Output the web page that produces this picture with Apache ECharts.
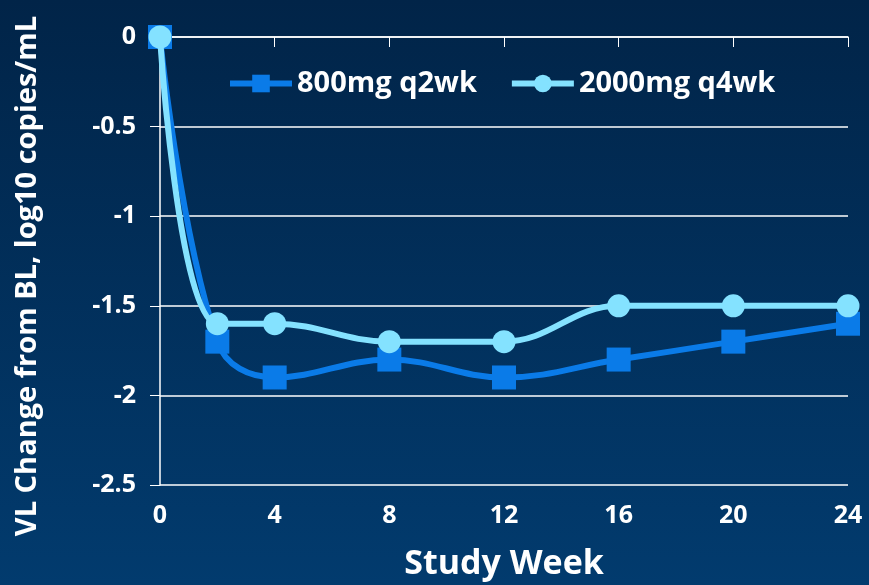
<!DOCTYPE html>
<html>
<head>
<meta charset="utf-8">
<title>VL Change from BL</title>
<script src="https://cdn.jsdelivr.net/npm/echarts@6/dist/echarts.min.js"></script>
<style>
  html, body { margin: 0; padding: 0; }
  #chart { width: 869px; height: 585px; }
</style>
</head>
<body>
<div id="chart"></div>
<script>
var weeks = [0, 2, 4, 8, 12, 16, 20, 24];
var q2wk = [0, -1.7, -1.9, -1.8, -1.9, -1.8, -1.7, -1.6];
var q4wk = [0, -1.6, -1.6, -1.7, -1.7, -1.5, -1.5, -1.5];
var names = ['800mg q2wk', '2000mg q4wk'];

function pairs(vals) {
  return weeks.map(function (w, i) { return [w, vals[i]]; });
}

var font = '"Open Sans", Lato, sans-serif';
var chart = echarts.init(document.getElementById('chart'));
chart.setOption({
  backgroundColor: new echarts.graphic.LinearGradient(0, 0, 0, 1, [
    { offset: 0, color: '#012448' },
    { offset: 1, color: '#023b6e' }
  ]),
  textStyle: { fontFamily: font },
  grid: { left: 160, right: 21, top: 37, bottom: 100, outerBoundsMode: 'none' },
  legend: {
    top: 64,
    left: 222,
    itemWidth: 62,
    itemHeight: 22,
    itemGap: 32,
    lineStyle: { width: 6 },
    textStyle: { color: '#fff', fontSize: 29, fontWeight: 'bold', fontFamily: font },
    data: names
  },
  xAxis: {
    type: 'value',
    min: 0, max: 24, interval: 4,
    name: 'Study Week',
    nameLocation: 'middle',
    nameGap: 62,
    nameTextStyle: { color: '#fff', fontSize: 34, fontWeight: 'bold', fontFamily: font },
    axisLine: { lineStyle: { color: '#fff', width: 1.5 } },
    axisTick: { show: true, length: 10, lineStyle: { color: '#fff' } },
    axisLabel: { color: '#fff', fontSize: 25, fontWeight: 'bold', margin: 18 },
    splitLine: { show: false }
  },
  yAxis: {
    type: 'value',
    min: -2.5, max: 0, interval: 0.5,
    name: 'VL Change from BL, log10 copies/mL',
    nameLocation: 'middle',
    nameGap: 118,
    nameTextStyle: { color: '#fff', fontSize: 29, fontWeight: 'bold', fontFamily: font, padding: [0, 30, 0, 0] },
    axisLine: { show: true, lineStyle: { color: '#fff', width: 1.5 } },
    axisTick: { show: true, length: 10, lineStyle: { color: '#fff' } },
    axisLabel: { color: '#fff', fontSize: 25, fontWeight: 'bold', margin: 24 },
    splitLine: { show: true, lineStyle: { color: '#fff', width: 1.5 } }
  },
  series: [
    {
      name: names[0],
      type: 'line',
      data: pairs(q2wk),
      smooth: 0.4,
      symbol: 'rect',
      symbolSize: 24,
      itemStyle: { color: '#0a7be8' },
      lineStyle: { width: 6, color: '#0a7be8' },
      z: 2
    },
    {
      name: names[1],
      type: 'line',
      data: pairs(q4wk),
      smooth: 0.4,
      symbol: 'circle',
      symbolSize: 23,
      itemStyle: { color: '#84e2ff' },
      lineStyle: { width: 6, color: '#84e2ff' },
      z: 3
    }
  ]
});
</script>
</body>
</html>
